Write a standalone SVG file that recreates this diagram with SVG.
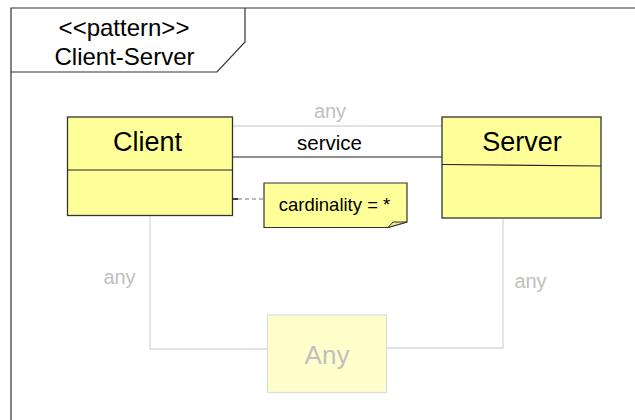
<svg xmlns="http://www.w3.org/2000/svg" width="635" height="420" viewBox="0 0 635 420">
<style>
text{font-family:"Liberation Sans",Arial,sans-serif;text-anchor:middle}
.cls{fill:#ffff99;stroke:#333;stroke-width:1.3}
.div{stroke:#222;stroke-width:1.2}
.gl{fill:none;stroke:#d8d8d8;stroke-width:1.3}
.gt{fill:#c0c0c0;font-size:20px}
</style>
<rect width="635" height="420" fill="#fff"/>
<g id="frame">
<path d="M11,420 V8 H635" fill="none" stroke="#333" stroke-width="1.2"/>
<path d="M11,72 H217 L245,42 V8" fill="none" stroke="#333" stroke-width="1.2"/>
<text x="124" y="36" font-size="24">&lt;&lt;pattern&gt;&gt;</text>
<text x="124.5" y="65" font-size="24">Client-Server</text>
</g>
<g id="connectors">
<path class="gl" d="M233,126 H442"/>
<path d="M233,157 H442" stroke="#222" stroke-width="1.2"/>
<path d="M233,199 H238" stroke="#000" stroke-width="1.5"/>
<path d="M238,199 H264" stroke="#777" stroke-width="1.2" stroke-dasharray="4,3"/>
<path class="gl" d="M150,216 V349 H267"/>
<path class="gl" d="M387,348 H503 V219"/>
<text class="gt" x="330" y="118">any</text>
<text x="329.5" y="150" font-size="20.5" fill="#000">service</text>
<text class="gt" x="119.5" y="284">any</text>
<text class="gt" x="530.5" y="288">any</text>
</g>
<g id="client">
<rect class="cls" x="67.5" y="117" width="165" height="98.5"/>
<line class="div" x1="67.5" y1="170" x2="232.5" y2="170"/>
<text x="147.5" y="151" font-size="27">Client</text>
</g>
<g id="server">
<rect class="cls" x="442" y="117" width="159" height="101"/>
<line class="div" x1="442" y1="164.5" x2="601" y2="166"/>
<text x="522" y="151" font-size="27">Server</text>
</g>
<g id="note">
<path d="M264,183 H407 V222 L388,227.5 H264 Z" fill="#ffff99" stroke="#333" stroke-width="1.2"/>
<path d="M388,227.5 L393,222 L407,222 Z" fill="#e8e890" stroke="#333" stroke-width="1"/>
<text x="334.5" y="211" font-size="18.5">cardinality = *</text>
</g>
<g id="any">
<rect x="267.5" y="315" width="119" height="77.5" fill="#ffffcc" stroke="#dddddd" stroke-width="1.3"/>
<text x="327" y="364" font-size="26" fill="#c0c0c0">Any</text>
</g>
</svg>
